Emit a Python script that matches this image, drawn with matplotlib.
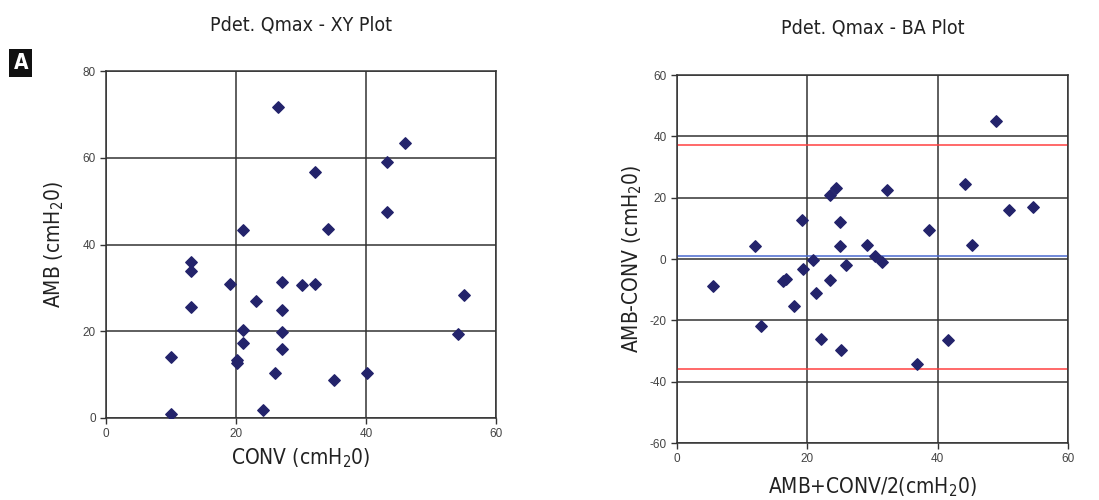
# encoding: utf-8

'''
Pdet. Qmax - XY plot and Bland-Altman plot
'''

import matplotlib
matplotlib.use('Agg')
import matplotlib.pyplot as plt

# XY plot: conventional vs ambulatory
conv = [26.5, 46.0, 43.2, 32.1, 43.2, 21.1, 34.1,
        13.1, 13.1, 13.1, 19.0, 27.0, 30.1, 32.1, 55.1, 23.0,
        27.0, 21.1, 27.0, 54.1, 21.1, 27.0, 10.0, 20.1, 20.1,
        26.0, 40.1, 35.0, 24.1, 10.0]
amb = [71.6, 63.3, 59.1, 56.6, 47.6, 43.4, 43.6,
       36.0, 33.9, 25.6, 30.9, 31.3, 30.7, 30.9, 28.3, 27.0,
       25.0, 20.4, 19.9, 19.4, 17.4, 16.0, 14.0, 13.4, 12.6,
       10.3, 10.3, 8.8, 1.8, 1.0]

# BA plot: mean vs difference
ba_mean = [48.9, 44.2, 24.4, 32.2, 23.5, 50.9, 54.6, 19.2, 25.0, 38.7,
           12.0, 25.0, 29.2, 45.2, 30.4, 20.8, 31.5, 25.9, 19.3, 16.8,
           16.3, 23.5, 5.5, 21.4, 18.0, 12.9, 22.1, 41.6, 25.2, 36.8]
ba_diff = [45.0, 24.5, 23.2, 22.4, 21.0, 16.1, 17.1, 12.8, 12.1, 9.5,
           4.2, 4.2, 4.5, 4.5, 0.9, -0.4, -1.1, -1.8, -3.4, -6.4,
           -7.3, -7.0, -8.9, -11.1, -15.4, -22.0, -26.0, -26.5, -29.6, -34.3]
bias = 0.9
limits = [37.1, -35.8]

plt.rcParams['axes.unicode_minus'] = False
plt.rcParams['mathtext.fontset'] = 'custom'
plt.rcParams['mathtext.rm'] = 'DejaVu Sans:stretch=condensed'
plt.rcParams['mathtext.it'] = 'DejaVu Sans:stretch=condensed'

narrow = dict(family='DejaVu Sans', stretch='condensed')
tick_font = ['Liberation Sans', 'DejaVu Sans']
mk = '#23236b'

fig = plt.figure(figsize=(10.99, 5), dpi=100)
ax1 = fig.add_axes([0.0965, 0.164, 0.3548, 0.694])
ax2 = fig.add_axes([0.616, 0.114, 0.3558, 0.736])


def style(ax, xticks, yticks):
    ax.set_xticks(xticks)
    ax.set_yticks(yticks)
    ax.grid(True, color='#333333', linewidth=1.1)
    ax.set_axisbelow(True)
    for s in ax.spines.values():
        s.set_color('#333333')
        s.set_linewidth(1.1)
    ax.tick_params(direction='out', length=4, width=1, color='#333333',
                   labelsize=8.5, labelcolor='#444444')
    for lab in ax.get_xticklabels() + ax.get_yticklabels():
        lab.set_family(tick_font)


ax1.scatter(conv, amb, marker='D', s=34, color=mk, zorder=3)
ax1.set_xlim(0, 60)
ax1.set_ylim(0, 80)
style(ax1, [0, 20, 40, 60], [0, 20, 40, 60, 80])
ax1.set_xlabel(r'CONV (cmH$_2$0)', fontsize=15, color='#222222', **narrow)
ax1.set_ylabel(r'AMB (cmH$_2$0)', fontsize=15, color='#222222',
               labelpad=12, **narrow)
ax1.set_title('Pdet. Qmax - XY Plot', fontsize=14, color='#222222',
              pad=29, **narrow)

ax2.axhline(limits[0], color='#ff4040', linewidth=1.1, zorder=2)
ax2.axhline(limits[1], color='#ff4040', linewidth=1.1, zorder=2)
ax2.axhline(bias, color='#4a6ad0', linewidth=1.1, zorder=2)
ax2.scatter(ba_mean, ba_diff, marker='D', s=34, color=mk, zorder=3)
ax2.set_xlim(0, 60)
ax2.set_ylim(-60, 60)
style(ax2, [0, 20, 40, 60], [-60, -40, -20, 0, 20, 40, 60])
ax2.set_xlabel(r'AMB+CONV/2(cmH$_2$0)', fontsize=15, color='#222222',
               labelpad=7, **narrow)
ax2.set_ylabel(r'AMB-CONV (cmH$_2$0)', fontsize=15, color='#222222', **narrow)
ax2.set_title('Pdet. Qmax - BA Plot', fontsize=14, color='#222222',
              pad=30, **narrow)

fig.text(0.019, 0.874, 'A', fontsize=15, fontweight='bold', color='white',
         ha='center', va='center', **narrow,
         bbox=dict(boxstyle='square,pad=0.2', fc='#111111', ec='none'))

plt.savefig('out.png', dpi=100)
